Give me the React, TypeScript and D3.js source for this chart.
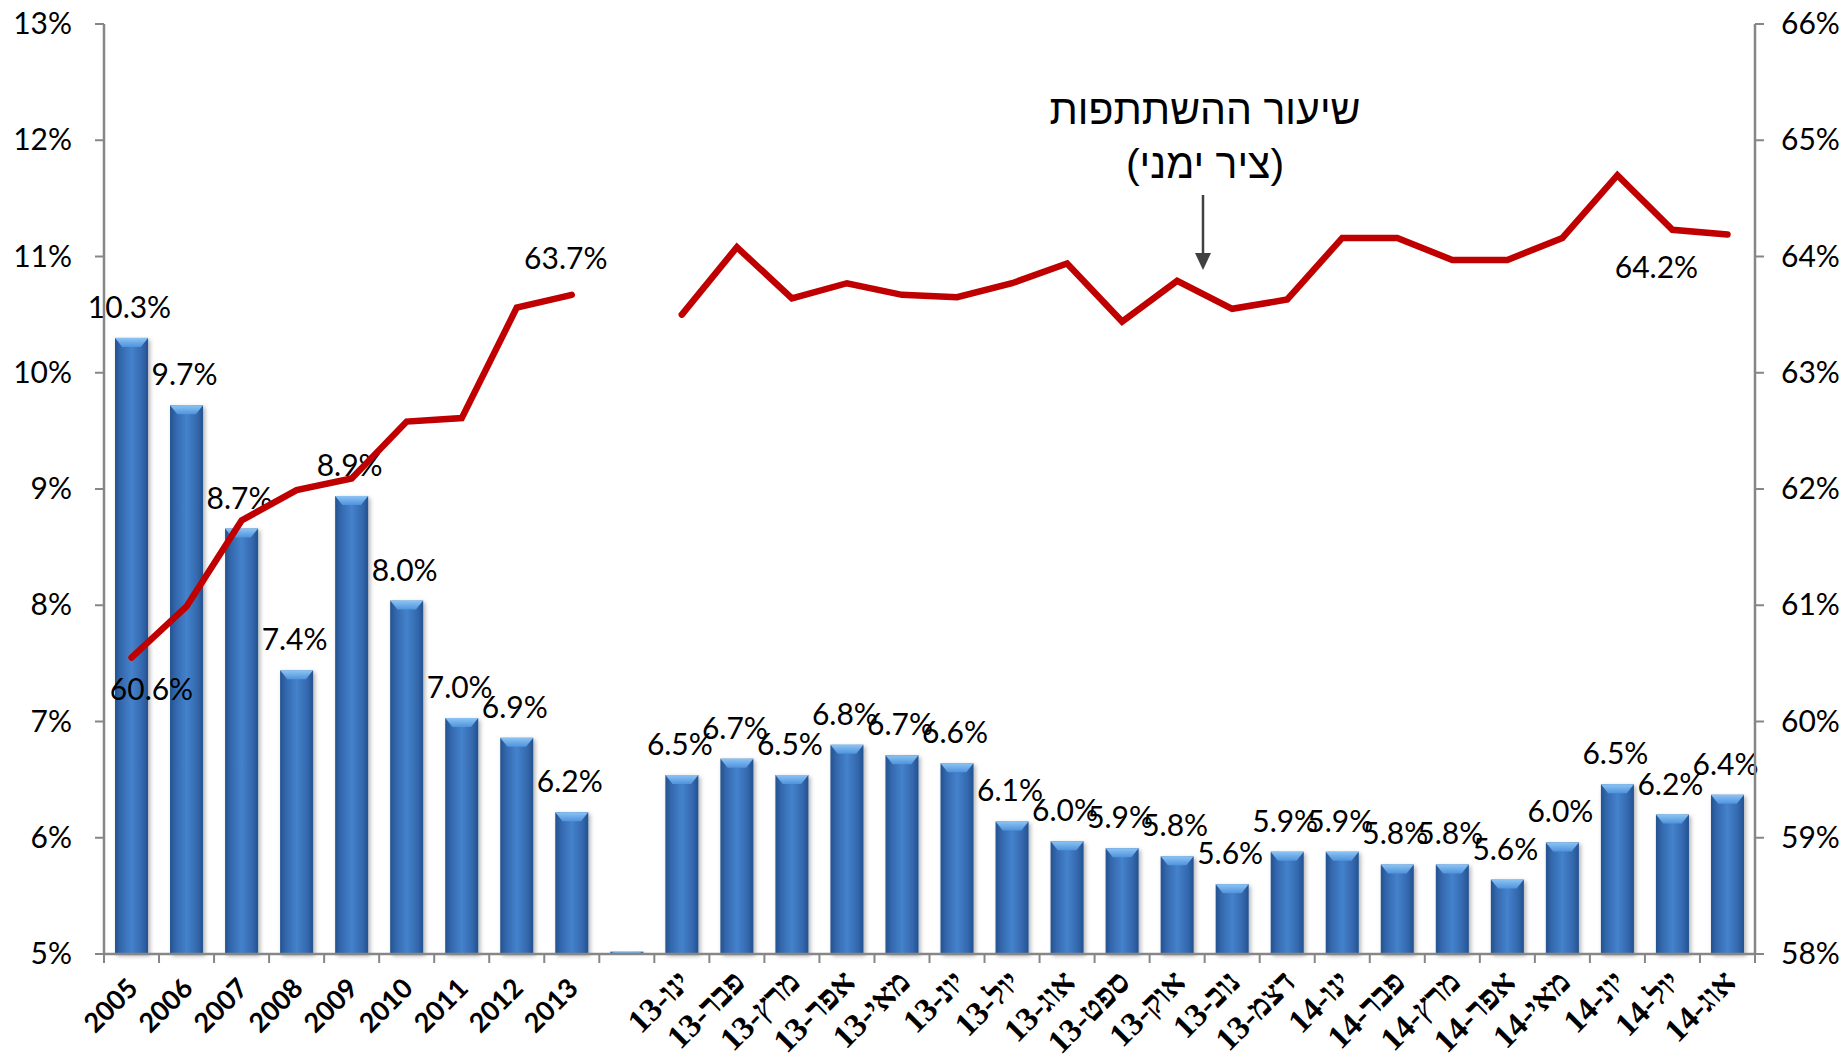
import React from 'react';
import * as d3 from 'd3';

const categories = [
  '2005', '2006', '2007', '2008', '2009', '2010', '2011', '2012', '2013', '',
  'ינו-13', 'פבר-13', 'מרץ-13', 'אפר-13', 'מאי-13', 'יונ-13', 'יול-13', 'אוג-13', 'ספט-13', 'אוק-13', 'נוב-13', 'דצמ-13',
  'ינו-14', 'פבר-14', 'מרץ-14', 'אפר-14', 'מאי-14', 'יונ-14', 'יול-14', 'אוג-14',
];

// Unemployment rate (left axis, %)
const unemployment = [
  10.3, 9.72, 8.66, 7.44, 8.94, 8.04, 7.03, 6.86, 6.22, 5.02,
  6.54, 6.68, 6.54, 6.8, 6.71, 6.64, 6.14, 5.97, 5.91, 5.84, 5.6, 5.88,
  5.88, 5.77, 5.77, 5.64, 5.96, 6.46, 6.2, 6.37,
];
const showBarLabel = [
  true, true, true, true, true, true, true, true, true, false,
  true, true, true, true, true, true, true, true, true, true, true, true,
  true, true, true, true, true, true, true, true,
];

// Participation rate (right axis, %)
const participation: (number | null)[] = [
  60.55, 60.99, 61.73, 61.99, 62.09, 62.58, 62.61, 63.56, 63.67, null,
  63.5, 64.08, 63.64, 63.77, 63.67, 63.65, 63.77, 63.94, 63.44, 63.79, 63.55, 63.63,
  64.16, 64.16, 63.97, 63.97, 64.16, 64.7, 64.23, 64.19,
];
// line labels: category, value text
const lineLabelCats = ['2005', '2013', 'יול-14'];
const lineLabelText = ['60.6%', '63.7%', '64.2%'];

const leftTicks = [5, 6, 7, 8, 9, 10, 11, 12, 13];
const rightTicks = [58, 59, 60, 61, 62, 63, 64, 65, 66];

const annotationLines = ['שיעור ההשתתפות', '(ציר ימני)'];

const W = 1847;
const H = 1062;
const M = { left: 104, right: W - 1755, top: 24, bottom: H - 954 };

const FONT = "'Lato', 'Liberation Sans', 'DejaVu Sans', sans-serif";
const HEB_TICK_FONT = "'Liberation Serif', 'DejaVu Serif', serif";

export default function App() {
  const x = d3
    .scaleBand<string>()
    .domain(categories.map((c, i) => i + ''))
    .range([M.left, W - M.right])
    .paddingInner(0.4)
    .paddingOuter(0.2);
  const step = x.step();
  const y = d3.scaleLinear().domain([5, 13]).range([H - M.bottom, M.top]);
  const y2 = d3.scaleLinear().domain([58, 66]).range([H - M.bottom, M.top]);
  const cx = (i: number) => (x(i + '') as number) + x.bandwidth() / 2;

  const line = d3
    .line<number | null>()
    .defined((d) => d !== null)
    .x((_, i) => cx(i))
    .y((d) => y2(d as number));

  const axisColor = '#868686';
  const baseY = y(5);
  const bw = x.bandwidth();

  const lineLabelOffsets: Record<string, [number, number]> = {
    '2005': [20, 42],
    '2013': [-6, -26],
    'יול-14': [-16, 48],
  };

  return (
    <svg
      width={W}
      height={H}
      style={{ position: 'absolute', left: 0, top: 0, background: '#fff' }}
      fontFamily={FONT}
    >
      <defs>
        <linearGradient id="barGrad" x1="0" x2="1" y1="0" y2="0">
          <stop offset="0" stopColor="#23528f" />
          <stop offset="0.18" stopColor="#3468ae" />
          <stop offset="0.5" stopColor="#4482cc" />
          <stop offset="0.82" stopColor="#3468ae" />
          <stop offset="1" stopColor="#23528f" />
        </linearGradient>
        <linearGradient id="topGrad" x1="0" x2="0" y1="0" y2="1">
          <stop offset="0" stopColor="#8cc4f4" />
          <stop offset="1" stopColor="#4f93dc" />
        </linearGradient>
        <filter id="shadow" x="-20%" y="-5%" width="150%" height="115%">
          <feDropShadow dx="2" dy="2" stdDeviation="2" floodColor="#000" floodOpacity="0.3" />
        </filter>
      </defs>

      {/* bars */}
      {unemployment.map((v, i) => {
        const x0 = x(i + '') as number;
        const top = y(v);
        const h = baseY - top;
        const bev = Math.min(9, h);
        return (
          <g key={'b' + i} filter="url(#shadow)">
            <rect x={x0} y={top} width={bw} height={h} fill="url(#barGrad)" />
            <path
              d={`M${x0},${top}L${x0 + bw},${top}L${x0 + bw - bw * 0.22},${top + bev}L${x0 + bw * 0.22},${top + bev}Z`}
              fill="url(#topGrad)"
            />
          </g>
        );
      })}

      {/* bar labels */}
      {unemployment.map((v, i) =>
        showBarLabel[i] ? (
          <text
            key={'bl' + i}
            x={cx(i) - 2}
            y={y(v) - 20}
            textAnchor="middle"
            fontSize={30}
            fill="#000"
          >
            {v.toFixed(1) + '%'}
          </text>
        ) : null
      )}

      {/* participation line */}
      <path
        d={line(participation) || ''}
        fill="none"
        stroke="#c00000"
        strokeWidth={6.5}
        strokeLinejoin="miter"
        strokeLinecap="round"
      />
      {lineLabelCats.map((c, k) => {
        const i = categories.indexOf(c);
        const v = participation[i] as number;
        const [dx, dy] = lineLabelOffsets[c];
        return (
          <text
            key={'ll' + k}
            x={cx(i) + dx}
            y={y2(v) + dy}
            textAnchor="middle"
            fontSize={30}
            fill="#000"
          >
            {lineLabelText[k]}
          </text>
        );
      })}

      {/* left axis */}
      <line x1={M.left} x2={M.left} y1={M.top} y2={baseY} stroke={axisColor} strokeWidth={2.5} />
      {leftTicks.map((t) => (
        <g key={'lt' + t}>
          <line x1={M.left - 9} x2={M.left} y1={y(t)} y2={y(t)} stroke={axisColor} strokeWidth={2} />
          <text x={M.left - 32} y={y(t) + 10} textAnchor="end" fontSize={30} fill="#000">
            {t + '%'}
          </text>
        </g>
      ))}

      {/* right axis */}
      <line
        x1={W - M.right}
        x2={W - M.right}
        y1={M.top}
        y2={baseY}
        stroke={axisColor}
        strokeWidth={2.5}
      />
      {rightTicks.map((t) => (
        <g key={'rt' + t}>
          <line
            x1={W - M.right}
            x2={W - M.right + 9}
            y1={y2(t)}
            y2={y2(t)}
            stroke={axisColor}
            strokeWidth={2}
          />
          <text x={W - M.right + 26} y={y2(t) + 10} textAnchor="start" fontSize={30} fill="#000">
            {t + '%'}
          </text>
        </g>
      ))}

      {/* x axis */}
      <line x1={M.left} x2={W - M.right} y1={baseY} y2={baseY} stroke={axisColor} strokeWidth={2.5} />
      {d3.range(categories.length + 1).map((k) => {
        const xx = M.left + k * step;
        return (
          <line key={'xt' + k} x1={xx} x2={xx} y1={baseY} y2={baseY + 9} stroke={axisColor} strokeWidth={2} />
        );
      })}
      {categories.map((c, i) => {
        const isHeb = /[\u0590-\u05FF]/.test(c);
        const ax = cx(i) + (isHeb ? 10 : 8);
        const ay = baseY + (isHeb ? 30 : 36);
        return (
          <text
            key={'xl' + i}
            transform={`translate(${ax},${ay}) rotate(-45)`}
            textAnchor="end"
            fontSize={isHeb ? 33 : 27}
            fontWeight="bold"
            fontFamily={isHeb ? HEB_TICK_FONT : FONT}
            fill="#000"
          >
            {isHeb ? '\u2067' + c + '\u2069' : c}
          </text>
        );
      })}

      {/* annotation */}
      <text x={1205} y={124} textAnchor="middle" fontSize={41} fill="#000" direction="rtl"
        fontFamily="'Liberation Sans', 'DejaVu Sans', sans-serif">
        {annotationLines[0]}
      </text>
      <text x={1205} y={178} textAnchor="middle" fontSize={41} fill="#000" direction="rtl"
        fontFamily="'Liberation Sans', 'DejaVu Sans', sans-serif">
        {annotationLines[1]}
      </text>
      <line x1={1203} x2={1203} y1={195} y2={255} stroke="#404040" strokeWidth={2.5} />
      <path d="M1195,253 L1211,253 L1203,270 Z" fill="#404040" />
    </svg>
  );
}
